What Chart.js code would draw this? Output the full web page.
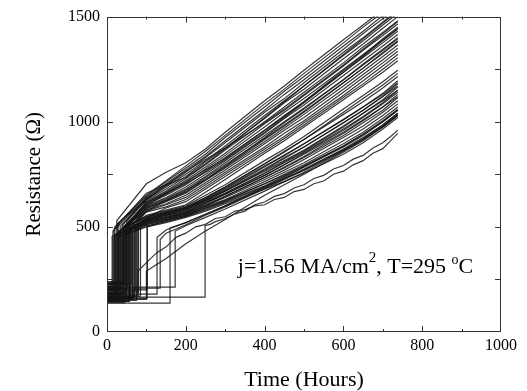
<!DOCTYPE html>
<html>
<head>
<meta charset="utf-8">
<script src="https://cdn.jsdelivr.net/npm/chart.js@4.4.0/dist/chart.umd.min.js"></script>
<style>
  html, body { margin: 0; padding: 0; background: #fff; }
</style>
</head>
<body>
<canvas id="grafico" width="527" height="391"></canvas>
<script>
// horas em que cada curva e lida depois do salto
const gridHours = [100, 150, 200, 250, 300, 400, 450, 500, 600, 650, 700, 738];

// cada linha: resistencia inicial, hora do salto, valor logo apos o salto, valores em gridHours
const upperBand = [
    [190, 25, 530, 705, 760, 805, 870, 950, 1100, 1170, 1245, 1390, 1460, 1535, 1590],
    [175, 30, 520, 650, 720, 790, 860, 935, 1085, 1155, 1230, 1375, 1450, 1520, 1575],
    [200, 20, 500, 645, 715, 780, 845, 925, 1070, 1145, 1215, 1360, 1430, 1505, 1560],
    [160, 40, 510, 640, 705, 770, 835, 910, 1055, 1130, 1200, 1345, 1420, 1490, 1545],
    [215, 15, 480, 635, 695, 760, 830, 900, 1045, 1110, 1185, 1330, 1400, 1475, 1530],
    [180, 50, 525, 630, 690, 750, 815, 885, 1030, 1100, 1170, 1315, 1385, 1460, 1515],
    [150, 35, 505, 625, 680, 740, 810, 875, 1015, 1090, 1155, 1300, 1370, 1445, 1500],
    [230, 45, 490, 620, 670, 730, 795, 865, 1000, 1070, 1140, 1280, 1355, 1425, 1480],
    [170, 60, 530, 615, 665, 720, 785, 850, 990, 1055, 1125, 1265, 1340, 1410, 1465],
    [195, 28, 470, 610, 655, 710, 775, 840, 975, 1045, 1110, 1250, 1320, 1390, 1445],
    [145, 55, 515, 605, 650, 700, 765, 830, 960, 1030, 1095, 1235, 1305, 1375, 1430],
    [210, 38, 495, 600, 640, 690, 750, 815, 945, 1015, 1080, 1220, 1290, 1360, 1415],
    [165, 70, 520, 595, 635, 680, 740, 805, 935, 1000, 1065, 1200, 1270, 1340, 1395],
    [185, 22, 460, 590, 625, 670, 735, 795, 920, 985, 1050, 1185, 1255, 1325, 1380],
    [240, 48, 500, 585, 620, 660, 720, 780, 905, 970, 1035, 1170, 1240, 1310, 1365],
    [155, 65, 510, 580, 610, 650, 710, 770, 895, 960, 1020, 1155, 1225, 1295, 1350],
    [200, 33, 480, 575, 605, 640, 700, 760, 880, 945, 1005, 1140, 1210, 1280, 1335],
    [175, 78, 535, 570, 595, 630, 690, 750, 870, 930, 995, 1125, 1195, 1265, 1320],
    [160, 102, 545, null, 590, 620, 680, 740, 860, 920, 985, 1115, 1180, 1250, 1305],
    [220, 13, 455, 555, 580, 605, 665, 725, 850, 910, 975, 1105, 1170, 1235, 1290],
    [205, 18, 490, 660, 700, 735, 800, 870, 1020, 1095, 1170, 1320, 1395, 1470, 1525],
    [165, 26, 515, 630, 700, 765, 820, 875, 995, 1060, 1130, 1270, 1345, 1420, 1475],
    [185, 42, 500, 615, 660, 705, 760, 820, 950, 1020, 1090, 1235, 1310, 1385, 1440],
    [145, 57, 520, 600, 660, 715, 770, 825, 960, 1025, 1095, 1245, 1315, 1395, 1450],
    [225, 30, 475, 590, 630, 675, 725, 785, 915, 980, 1045, 1185, 1255, 1330, 1385],
    [170, 85, 540, 575, 625, 665, 725, 790, 925, 995, 1060, 1200, 1275, 1345, 1400]
];

const lowerBand = [
    [185, 42, 500, 550, 575, 600, 650, 700, 815, 870, 930, 1060, 1125, 1190, 1245],
    [165, 30, 480, 545, 570, 595, 640, 690, 800, 860, 915, 1045, 1110, 1175, 1230],
    [205, 52, 505, 545, 570, 590, 635, 685, 790, 840, 895, 1010, 1070, 1135, 1195],
    [150, 18, 450, 540, 565, 590, 630, 675, 775, 830, 880, 995, 1055, 1120, 1180],
    [225, 62, 495, 540, 560, 585, 625, 670, 765, 815, 865, 980, 1040, 1105, 1165],
    [175, 36, 470, 535, 560, 580, 620, 660, 755, 805, 855, 965, 1025, 1090, 1150],
    [195, 72, 510, 530, 555, 575, 615, 655, 745, 795, 845, 950, 1010, 1070, 1130],
    [140, 45, 475, 530, 550, 570, 605, 645, 735, 780, 830, 935, 995, 1055, 1115],
    [215, 25, 445, 525, 545, 565, 600, 640, 725, 770, 820, 925, 980, 1045, 1100],
    [160, 58, 490, 520, 540, 560, 595, 630, 715, 760, 805, 910, 965, 1030, 1085],
    [190, 80, 500, 515, 535, 555, 590, 625, 705, 750, 795, 895, 950, 1015, 1070],
    [235, 40, 455, 510, 530, 550, 585, 620, 695, 740, 785, 880, 935, 1000, 1055],
    [170, 68, 480, 505, 525, 550, 580, 615, 690, 730, 770, 865, 920, 985, 1040],
    [150, 50, 465, 500, 520, 545, 575, 610, 680, 715, 755, 845, 900, 965, 1020],
    [200, 102, 500, null, 530, 555, 590, 625, 705, 745, 790, 885, 940, 1005, 1060],
    [180, 127, 450, null, 485, 520, 560, 600, 685, 730, 775, 870, 925, 985, 1040],
    [208, 135, 440, null, 470, 510, 555, 595, 680, 725, 770, 865, 915, 975, 1030],
    [137, 160, 495, null, null, 520, 560, 600, 690, 735, 785, 885, 940, 1000, 1055],
    [213, 173, 480, null, null, 505, 545, 585, 670, 715, 760, 860, 915, 980, 1035],
    [155, 100, 290, null, 350, 420, 480, 535, 650, 700, 750, 855, 910, 975, 1030],
    [180, 47, 490, 535, 565, 590, 640, 690, 800, 855, 915, 1035, 1095, 1160, 1215],
    [200, 20, 460, 530, 560, 585, 630, 680, 785, 840, 895, 1010, 1070, 1130, 1185],
    [160, 64, 505, 525, 555, 580, 625, 670, 770, 825, 880, 995, 1055, 1120, 1170],
    [215, 33, 470, 520, 545, 570, 615, 660, 755, 810, 860, 975, 1040, 1100, 1150],
    [150, 75, 500, 515, 540, 565, 610, 655, 745, 795, 850, 960, 1020, 1085, 1140],
    [230, 54, 480, 510, 535, 560, 600, 645, 735, 785, 835, 945, 1005, 1070, 1120]
];

// as duas curvas de baixo, serrilhadas: pares [hora, ohms]
const wavyLow = [
    [[0, 170], [79, 170], [79, 290], [100, 330], [125, 375], [150, 405], [175, 450], [200, 470], [225, 500],
     [250, 512], [275, 540], [300, 548], [325, 575], [350, 582], [375, 600], [400, 605], [425, 630], [450, 640],
     [475, 668], [500, 678], [525, 705], [550, 718], [575, 750], [600, 765], [625, 795], [650, 815], [675, 850],
     [700, 872], [720, 910], [738, 945]],
    [[0, 166], [249, 166], [249, 506], [262, 512], [275, 525], [300, 540], [325, 562], [350, 575], [375, 605],
     [400, 618], [425, 645], [450, 658], [475, 685], [500, 700], [525, 730], [550, 745], [575, 775], [600, 792],
     [625, 822], [650, 840], [675, 875], [700, 900], [720, 930], [738, 960]]
];

const xTickHours = [0, 200, 400, 600, 800, 1000];
const minorHours = [100, 200, 300, 400, 500, 600, 700, 800, 900];
const ohmMarks = [250, 500, 750, 1000, 1250];

const noteHour = 332;
const noteOhms = 279;

const fonte = 'Liberation Serif';

function montarCurva(linha) {
    const base = linha[0], salto = linha[1], depois = linha[2];
    const pts = [{x: 0, y: base}, {x: salto, y: base}, {x: salto, y: depois}];
    gridHours.forEach((h, i) => {
        const v = linha[3 + i];
        if (v !== null && h > salto) pts.push({x: h, y: v});
    });
    return pts;
}

const datasets = [];
upperBand.concat(lowerBand).forEach(linha => {
    datasets.push({data: montarCurva(linha)});
});
wavyLow.forEach(lista => {
    datasets.push({data: lista.map(p => ({x: p[0], y: p[1]}))});
});
datasets.forEach(d => {
    d.borderColor = 'rgba(20,20,20,0.85)';
    d.borderWidth = 1.2;
    d.pointRadius = 0;
    d.tension = 0;
    d.fill = false;
});

// moldura com marcas para dentro e a anotacao
const moldura = {
    id: 'moldura',
    afterDatasetsDraw(chart) {
        const ctx = chart.ctx;
        const a = chart.chartArea;
        const x = chart.scales.x, y = chart.scales.y;
        ctx.save();
        ctx.strokeStyle = '#333';
        ctx.lineWidth = 1;
        ctx.strokeRect(Math.round(a.left) + 0.5, Math.round(a.top) + 0.5,
            Math.round(a.right - a.left) - 1, Math.round(a.bottom - a.top) - 1);
        ctx.beginPath();
        minorHours.forEach(h => {
            const px = Math.round(x.getPixelForValue(h)) + 0.5;
            const len = h % 200 === 0 ? 6 : 3;
            ctx.moveTo(px, a.bottom); ctx.lineTo(px, a.bottom - len);
            ctx.moveTo(px, a.top); ctx.lineTo(px, a.top + len);
        });
        ohmMarks.forEach(r => {
            const py = Math.round(y.getPixelForValue(r)) + 0.5;
            ctx.moveTo(a.left, py); ctx.lineTo(a.left + 6, py);
            ctx.moveTo(a.right, py); ctx.lineTo(a.right - 6, py);
        });
        ctx.stroke();

        ctx.fillStyle = '#000';
        ctx.textBaseline = 'alphabetic';
        ctx.textAlign = 'left';
        let px = x.getPixelForValue(noteHour);
        const py = y.getPixelForValue(noteOhms);
        const partes = [['j=1.56 MA/cm', 22, 0], ['2', 15, -11], [', T=295 ', 22, 0], ['o', 14, -9], ['C', 22, 0]];
        partes.forEach(p => {
            ctx.font = p[1] + 'px "' + fonte + '"';
            ctx.fillText(p[0], px, py + p[2]);
            px += ctx.measureText(p[0]).width;
        });
        ctx.restore();
    }
};

const grafico = new Chart(document.getElementById('grafico'), {
    type: 'line',
    data: {datasets: datasets},
    options: {
        responsive: false,
        animation: false,
        devicePixelRatio: 1,
        layout: {padding: {top: 15, right: 26, left: 0, bottom: 0}},
        plugins: {legend: {display: false}, tooltip: {enabled: false}},
        scales: {
            x: {
                type: 'linear', min: 0, max: 1000,
                grid: {display: false, drawTicks: false},
                border: {display: false},
                afterBuildTicks: s => { s.ticks = xTickHours.map(v => ({value: v})); },
                ticks: {color: '#000', font: {family: fonte, size: 16}, padding: 4, maxRotation: 0,
                    callback: v => String(v)},
                title: {display: true, text: 'Time (Hours)', color: '#000',
                    font: {family: fonte, size: 22, lineHeight: 1}, padding: {top: 0, bottom: 0}},
                afterFit: s => { s.height = 59; }
            },
            y: {
                type: 'linear', min: 0, max: 1500,
                grid: {display: false, drawTicks: false},
                border: {display: false},
                ticks: {stepSize: 500, color: '#000', font: {family: fonte, size: 16}, padding: 7,
                    callback: v => String(v)},
                title: {display: true, text: 'Resistance (Ω)', color: '#000',
                    font: {family: fonte, size: 21, lineHeight: 1}, padding: {top: 24, bottom: 0}},
                afterFit: s => { s.width = 107; }
            }
        }
    },
    plugins: [moldura]
});
</script>
</body>
</html>
